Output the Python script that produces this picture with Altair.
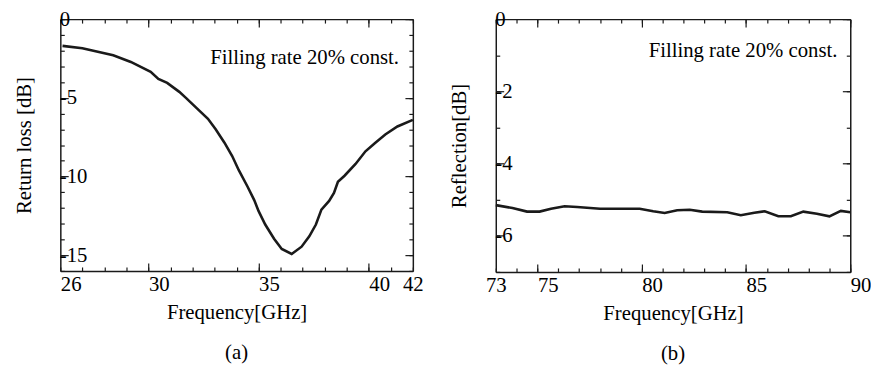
import altair as alt
import pandas as pd

# ---------------- data ----------------
freq_a = [26.1, 27.0, 27.7, 28.4, 29.2, 30.1, 30.45, 30.85, 31.4, 31.7, 32.2, 32.7, 33.05,
          33.45, 33.8, 34.1, 34.5, 34.8, 35.0, 35.3, 35.7, 36.05, 36.5, 36.95, 37.3, 37.6,
          37.85, 38.2, 38.42, 38.6, 38.9, 39.4, 39.85, 40.3, 40.75, 41.3, 42.0]
return_loss_a = [-1.7, -1.85, -2.08, -2.3, -2.72, -3.35, -3.8, -4.05, -4.62, -5.0, -5.67, -6.33,
                 -7.0, -7.85, -8.7, -9.6, -10.65, -11.5, -12.2, -13.05, -13.95, -14.6, -14.92,
                 -14.46, -13.8, -13.05, -12.1, -11.55, -11.05, -10.33, -9.95, -9.2, -8.4, -7.85,
                 -7.33, -6.82, -6.4]

freq_b = [73.0, 73.8, 74.5, 75.1, 75.65, 76.3, 76.9, 78.0, 79.1, 79.9, 80.55, 81.1, 81.7,
          82.3, 82.9, 84.1, 84.75, 85.4, 85.9, 86.55, 87.15, 87.75, 88.4, 89.0, 89.55, 90.0]
reflection_b = [-5.15, -5.23, -5.33, -5.33, -5.25, -5.18, -5.2, -5.25, -5.25, -5.25, -5.32,
                -5.37, -5.29, -5.28, -5.33, -5.35, -5.43, -5.36, -5.32, -5.46, -5.46, -5.33,
                -5.39, -5.46, -5.31, -5.35]

xa_minor = list(range(26, 43))
xa_major = [30, 35, 40]
xa_labels = [26, 30, 35, 40, 42]
ya_minor = list(range(-16, 1))
ya_major = [0, -5, -10, -15]

xb_minor = list(range(73, 91))
xb_major = [75, 80, 85, 90]
xb_labels = [73, 75, 80, 85, 90]
yb_minor = list(range(-7, 1))
yb_major = [0, -2, -4, -6]

note_text = "Filling rate 20% const."
x_title = "Frequency[GHz]"
y_title_a = "Return loss [dB]"
y_title_b = "Reflection[dB]"
caption_a = "(a)"
caption_b = "(b)"

FONT = "Liberation Serif"
INK = "#1a1a1a"


def tick_axis(orient, offset, values, size, domain=False, labels=False, **kw):
    return alt.Axis(orient=orient, offset=offset, values=values, tickSize=size,
                    domain=domain, labels=labels, grid=False, title=None, **kw)


def panel(freqs, vals, xdom, ydom, xminor, xmajor, xlabels, yminor, ymajor,
          ytitle, caption, w, h, note_x, note_y, center_labels, ytitle_pad):
    df = pd.DataFrame({"f": freqs, "v": vals})
    xs = alt.Scale(domain=xdom, nice=False, zero=False)
    ys = alt.Scale(domain=ydom, nice=False, zero=False)
    base = alt.Chart(df)

    cond = " || ".join(f"datum.value == {v}" for v in center_labels)
    line = base.mark_line(color=INK, strokeWidth=2.6).encode(
        x=alt.X("f:Q", scale=xs, axis=alt.Axis(
            orient="bottom", values=xlabels, ticks=False, grid=False, domain=True,
            labelPadding=3, labelAlign={"condition": {"test": cond, "value": "center"}, "value": "left"},
            labelBaseline="top", title=x_title, titlePadding=7)),
        y=alt.Y("v:Q", scale=ys, axis=alt.Axis(
            orient="left", labels=False, ticks=False, grid=False, domain=True,
            title=ytitle, titlePadding=ytitle_pad)),
    )

    ghost = base.mark_line(strokeOpacity=0)
    # bottom edge + left edge (inward), minor
    l2 = ghost.encode(
        x=alt.X("f:Q", scale=xs, axis=tick_axis("top", -h, xminor, 4)),
        y=alt.Y("v:Q", scale=ys, axis=tick_axis("right", -w, yminor, 4)),
    )
    # bottom edge + left edge, major, with y labels inside
    l3 = ghost.encode(
        x=alt.X("f:Q", scale=xs, axis=tick_axis("top", -h, xmajor, 8)),
        y=alt.Y("v:Q", scale=ys, axis=tick_axis(
            "right", -w, ymajor, 8, labels=True, labelPadding=-9, labelAlign="left",
            labelBaseline="middle",
            labelExpr="datum.value < 0 ? '-' + abs(datum.value) : '' + datum.value")),
    )
    # top edge + right edge, minor, with frame lines
    l4 = ghost.encode(
        x=alt.X("f:Q", scale=xs, axis=tick_axis("bottom", -h, xminor, 4, domain=True)),
        y=alt.Y("v:Q", scale=ys, axis=tick_axis("left", -w, yminor, 4, domain=True)),
    )
    # top edge + right edge, major
    l5 = ghost.encode(
        x=alt.X("f:Q", scale=xs, axis=tick_axis("bottom", -h, xmajor, 8)),
        y=alt.Y("v:Q", scale=ys, axis=tick_axis("left", -w, ymajor, 8)),
    )
    note = alt.Chart(pd.DataFrame({"t": [note_text]})).mark_text(
        align="right", baseline="alphabetic", font=FONT, fontSize=21, color="black"
    ).encode(text="t:N", x=alt.value(note_x), y=alt.value(note_y))

    return alt.layer(line, l2, l3, l4, l5, note).resolve_axis(
        x="independent", y="independent"
    ).properties(
        width=w, height=h,
        title=alt.TitleParams(text=caption, orient="bottom", offset=20, anchor="middle",
                              font=FONT, fontSize=21, fontWeight="normal", color="black"),
    )


pa = panel(freq_a, return_loss_a, [26, 42], [-16, 0], xa_minor, xa_major, xa_labels,
           ya_minor, ya_major, y_title_a, caption_a, 357, 255, 343, 45, [42], 26)
pb = panel(freq_b, reflection_b, [73, 90], [-7, 0], xb_minor, xb_major, xb_labels,
           yb_minor, yb_major, y_title_b, caption_b, 359, 256, 346, 38, [73], 26.5)

chart = alt.hconcat(pa, pb, spacing=25).properties(
    padding={"left": 6, "top": -2, "right": 0, "bottom": 0}
).configure_view(strokeWidth=0).configure_axis(
    domainColor=INK, domainWidth=1.5, tickColor=INK, tickWidth=1.2,
    labelFont=FONT, labelFontSize=21, labelColor="black",
    titleFont=FONT, titleFontSize=21, titleFontWeight="normal", titleColor="black",
    labelFlush=False, labelOverlap=False,
).configure_title(font=FONT, fontSize=21, fontWeight="normal", color="black")

chart.save("out.html", embed_options={"renderer": "svg", "actions": False})
